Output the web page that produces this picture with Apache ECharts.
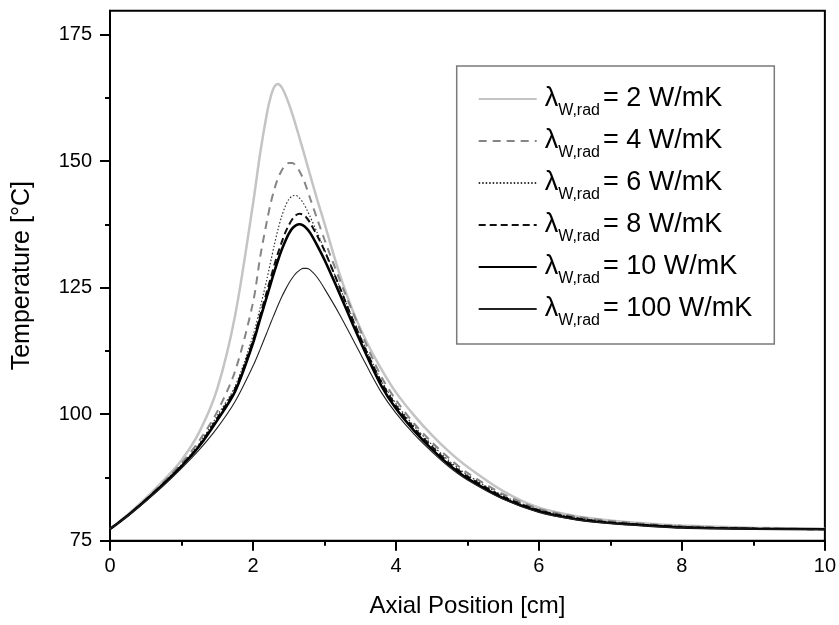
<!DOCTYPE html>
<html>
<head>
<meta charset="utf-8">
<script src="https://cdn.jsdelivr.net/npm/echarts@6/dist/echarts.min.js"></script>
<style>
  html, body { margin: 0; padding: 0; background: #fff; }
  #chart { width: 839px; height: 625px; }
</style>
</head>
<body>
<div id="chart"></div>
<script>
// axial position [cm]
const axialPos = [0, 0.25, 0.5, 0.75, 1, 1.25, 1.5, 1.75, 2, 2.1, 2.2, 2.25, 2.3, 2.35, 2.4, 2.45, 2.5, 2.55, 2.6, 2.65, 2.7, 2.75, 2.8, 2.9, 3, 3.2, 3.4, 3.6, 3.8, 4, 4.25, 4.5, 4.75, 5, 5.5, 6, 6.5, 7, 7.5, 8, 9, 10];

// temperature [°C] per radial wall conductivity
const temp2 = [77.3, 80.2, 83.4, 86.9, 90.9, 96.5, 105, 119.5, 141.5, 151.5, 159.8, 162.8, 164.7, 165.2, 164.6, 163.2, 161.4, 159.3, 157, 154.6, 152.2, 149.7, 147.2, 142.3, 137.7, 128.2, 120.3, 114, 108.8, 104.3, 99.8, 95.9, 92.5, 89.6, 84.8, 81.5, 79.9, 79, 78.4, 78, 77.55, 77.35];
const temp4 = [77.3, 80.1, 83.2, 86.6, 90.3, 94.8, 100.5, 108.5, 122, 131, 138.5, 141.8, 144.5, 146.6, 148.1, 149.1, 149.6, 149.6, 149.1, 148, 146.6, 144.7, 142.6, 138.5, 134.5, 127, 120, 113.3, 107.3, 102.8, 98.2, 94.5, 91.2, 88.4, 84.2, 81.3, 79.8, 78.9, 78.3, 77.9, 77.45, 77.3];
const temp6 = [77.3, 80, 83.1, 86.4, 90, 94.2, 99.7, 105.5, 115.5, 121, 127, 130.3, 133.5, 136.5, 139, 141, 142.4, 143.1, 143.2, 142.7, 141.8, 140.5, 139, 135.8, 132.5, 125.6, 118.8, 112.3, 106.5, 102.1, 97.7, 94, 90.7, 88, 83.9, 81.1, 79.6, 78.7, 78.2, 77.8, 77.4, 77.3];
const temp8 = [77.3, 80, 83, 86.3, 89.8, 93.9, 99.2, 105, 114.5, 119.5, 124.5, 127, 129.5, 131.8, 133.9, 135.8, 137.3, 138.5, 139.3, 139.6, 139.4, 138.8, 137.8, 135.2, 132.3, 125.5, 118.5, 112, 106.2, 101.7, 97.3, 93.6, 90.3, 87.7, 83.7, 81, 79.5, 78.6, 78.1, 77.7, 77.4, 77.25];
const temp10 = [77.3, 80, 83, 86.2, 89.7, 93.7, 98.8, 104.5, 114, 118.8, 123.5, 125.9, 128.2, 130.4, 132.4, 134.1, 135.6, 136.7, 137.3, 137.5, 137.3, 136.7, 135.8, 133.3, 130.5, 124.2, 117.6, 111.3, 105.5, 101.1, 96.8, 93.1, 89.9, 87.3, 83.4, 80.8, 79.3, 78.5, 78, 77.6, 77.35, 77.25];
const temp100 = [77.3, 79.9, 82.8, 85.9, 89.3, 93, 97.3, 102.5, 109.5, 112.8, 116.3, 118.1, 119.8, 121.5, 123.1, 124.5, 125.8, 126.9, 127.8, 128.4, 128.8, 128.8, 128.5, 127, 124.8, 120, 114.7, 109.3, 104.2, 100.2, 96.1, 92.6, 89.5, 87, 83.2, 80.6, 79.2, 78.4, 77.9, 77.55, 77.3, 77.25];

const seriesNames = ['2 W/mK', '4 W/mK', '6 W/mK', '8 W/mK', '10 W/mK', '100 W/mK'];
const yTicks = [75, 100, 125, 150, 175];
const yMinorTicks = [87.5, 112.5, 137.5, 162.5];

const chart = echarts.init(document.getElementById('chart'), null, { renderer: 'canvas' });

const FONT = 'Liberation Sans, Arial, sans-serif';

const toPairs = (vals) => axialPos.map((x, i) => [x, vals[i]]);

const styles = [
  { color: '#c4c4c4', width: 2.5, type: 'solid' },
  { color: '#858585', width: 2, type: [8, 6] },
  { color: '#333333', width: 1.2, type: [1.5, 2] },
  { color: '#111111', width: 2, type: [7, 4] },
  { color: '#000000', width: 2.6, type: 'solid' },
  { color: '#222222', width: 1.1, type: 'solid' }
];

const dataSets = [temp2, temp4, temp6, temp8, temp10, temp100];

const series = dataSets.map((vals, i) => ({
  name: seriesNames[i],
  type: 'line',
  data: toPairs(vals),
  smooth: 0.3,
  symbol: 'none',
  lineStyle: styles[i],
  itemStyle: { color: styles[i].color },
  z: 2 + i
}));

const option = {
  animation: false,
  backgroundColor: '#fff',
  grid: {
    left: 110,
    right: 12,
    top: 10.7,
    bottom: 84.3,
    show: true,
    borderColor: '#000',
    borderWidth: 2
  },
  legend: {
    orient: 'vertical',
    left: 456.7,
    top: 66,
    padding: [13, 22, 15, 21],
    itemGap: 2,
    itemWidth: 58,
    itemHeight: 14,
    borderColor: '#7a7a7a',
    borderWidth: 1.5,
    backgroundColor: '#fff',
    itemStyle: { opacity: 0 },
    data: seriesNames,
    formatter: (name) => `{l|λ}{s|W,rad}{t|= ${name}}`,
    textStyle: {
      color: '#000',
      fontFamily: FONT,
      rich: {
        l: { fontSize: 27, fontFamily: FONT, lineHeight: 40, padding: [0, 0, 0, 3] },
        s: { fontSize: 16, fontFamily: FONT, lineHeight: 16, padding: [24, 3, 0, 0] },
        t: { fontSize: 27, fontFamily: FONT, lineHeight: 40 }
      }
    }
  },
  xAxis: {
    type: 'value',
    min: 0,
    max: 10,
    interval: 2,
    name: 'Axial Position [cm]',
    nameLocation: 'middle',
    nameGap: 54,
    nameTextStyle: { fontSize: 24, fontFamily: FONT, color: '#000' },
    axisLine: { show: true, lineStyle: { color: '#000', width: 2 } },
    axisTick: { show: true, inside: false, length: 10, lineStyle: { color: '#000', width: 2 } },
    minorTick: { show: true, splitNumber: 2, length: 5, lineStyle: { color: '#000', width: 2 } },
    axisLabel: { fontSize: 20, fontFamily: FONT, color: '#000', margin: 16 },
    splitLine: { show: false },
    minorSplitLine: { show: false }
  },
  yAxis: [
    {
      type: 'value',
      min: 75,
      max: 179.7,
      name: 'Temperature [°C]',
      nameLocation: 'middle',
      nameGap: 75,
      nameTextStyle: { fontSize: 25, fontFamily: FONT, color: '#000' },
      axisLine: { show: true, lineStyle: { color: '#000', width: 2 } },
      axisTick: { show: true, inside: false, length: 10, customValues: yTicks, lineStyle: { color: '#000', width: 2 } },
      axisLabel: { fontSize: 20, fontFamily: FONT, color: '#000', margin: 18, customValues: yTicks },
      splitLine: { show: false }
    },
    {
      type: 'value',
      min: 75,
      max: 179.7,
      position: 'left',
      axisLine: { show: false },
      axisTick: { show: true, inside: false, length: 5, customValues: yMinorTicks, lineStyle: { color: '#000', width: 2 } },
      axisLabel: { show: false },
      splitLine: { show: false }
    }
  ],
  series
};

chart.setOption(option);
</script>
</body>
</html>
